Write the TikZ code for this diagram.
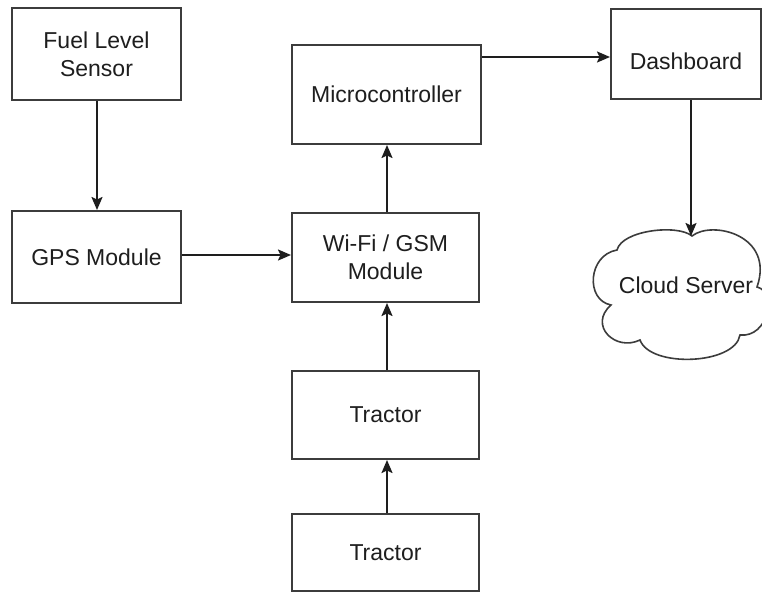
\documentclass[tikz,border=0pt]{standalone}
\usepackage{fontspec}
\setmainfont{Liberation Sans}
\usetikzlibrary{arrows.meta}
\definecolor{edgegray}{HTML}{3C3C3C}
\definecolor{inkgray}{HTML}{1E1E1E}
\begin{document}
\begin{tikzpicture}[x=1pt,y=-1pt,
  box/.style={draw=edgegray, line width=2pt, rectangle, inner sep=0pt, align=center, text=inkgray, font=\fontsize{23}{28}\selectfont},
  lbl/.style={inner sep=0pt, align=center, text=inkgray, font=\fontsize{23}{28}\selectfont},
  conn/.style={draw=inkgray, line width=1.9pt, -{Stealth[length=13pt,width=11pt,inset=2.5pt]}},
]
\useasboundingbox (0,0) rectangle (762,605);
\fill[white] (0,0) rectangle (762,605);
\begin{scope}
\clip (0,0) rectangle (762,605);
% boxes
\node[box, minimum width=169pt, minimum height=92pt] (fuel) at (96.5,54) {Fuel Level\\Sensor};
\node[box, minimum width=169pt, minimum height=92pt] (gps) at (96.5,257) {GPS Module};
\node[box, minimum width=189pt, minimum height=99pt] (micro) at (386.5,94.5) {Microcontroller};
\node[box, minimum width=187pt, minimum height=89pt] (wifi) at (385.5,257.5) {Wi-Fi / GSM\\Module};
\node[box, minimum width=187pt, minimum height=88pt] (tr1) at (385.5,415) {Tractor};
\node[box, minimum width=187pt, minimum height=77pt] (tr2) at (385.5,552.5) {Tractor};
\node[box, minimum width=150pt, minimum height=90pt] (dash) at (686,54) {};
\node[lbl] (dashtxt) at (686,61) {Dashboard};
% cloud
\draw[draw=edgegray, line width=1.6pt, fill=white]
  (617,250) .. controls (622,230) and (678,224) .. (692,236)
  .. controls (712,220) and (775,235) .. (757,287)
  .. controls (778,292) and (768,338) .. (740,335)
  .. controls (735,365) and (650,368) .. (640,340)
  .. controls (615,352) and (588,325) .. (611,305)
  .. controls (585,300) and (588,255) .. (617,250) -- cycle;
\node[lbl] (cloud) at (686,285) {Cloud Server};
\coordinate (cloudtop) at (691,236);
% connectors
\draw[conn] ([xshift=0.5pt]fuel.south) -- ([xshift=0.5pt]gps.north);
\draw[conn] ([yshift=2pt]gps.east) -- ([yshift=2pt]gps.east -| wifi.west);
\draw[conn] ([xshift=1.5pt]wifi.north) -- ([xshift=1.5pt]wifi.north |- micro.south);
\draw[conn] ([xshift=1.5pt]tr1.north) -- ([xshift=1.5pt]wifi.south);
\draw[conn] ([xshift=1.5pt]tr2.north) -- ([xshift=1.5pt]tr1.south);
\draw[conn] ([yshift=-13pt]micro.north east) -- ([yshift=-13pt]micro.north east -| dash.west);
\draw[conn] ([xshift=5pt]dash.south) -- (cloudtop);
\end{scope}
\end{tikzpicture}
\end{document}
